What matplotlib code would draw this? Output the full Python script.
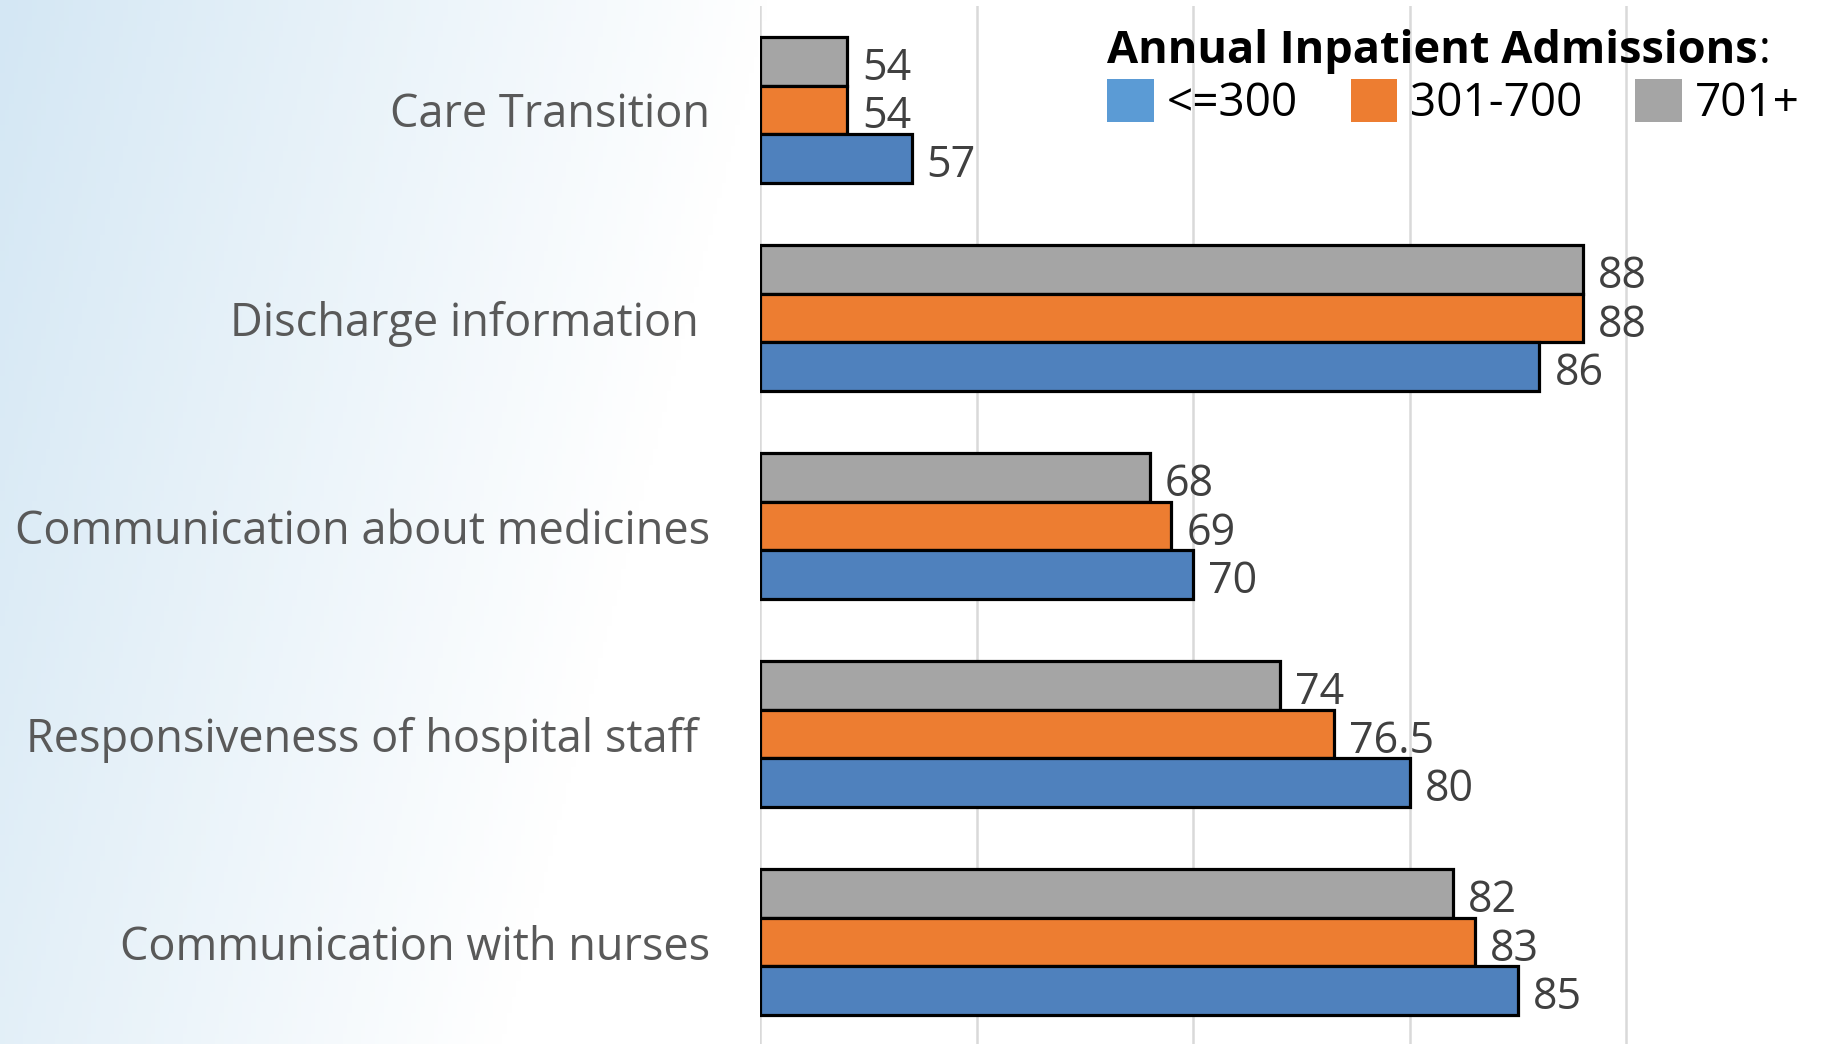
import numpy as np
import matplotlib
matplotlib.use("Agg")
import matplotlib.pyplot as plt
from matplotlib.patches import Patch

plt.rcParams['font.family'] = ['Open Sans', 'DejaVu Sans']

categories = ["Care Transition", "Discharge information ", "Communication about medicines",
              "Responsiveness of hospital staff ", "Communication with nurses"]
low = [57, 86, 70, 80, 85]        # <=300
mid = [54, 88, 69, 76.5, 83]      # 301-700
high = [54, 88, 68, 74, 82]       # 701+
series_names = ["<=300", "301-700", "701+"]

bar_colors = ["#4F81BD", "#ED7D31", "#A5A5A5"]
legend_colors = ["#5B9BD5", "#ED7D31", "#A5A5A5"]

fig = plt.figure(figsize=(18.27, 10.44), dpi=100)

# background gradient (light blue fading to white)
bg = fig.add_axes([0, 0, 1, 1], zorder=-5)
h, w = 200, 400
yy, xx = np.mgrid[0:h, 0:w]
t = np.clip(1 - (xx / w) / 0.42 - (yy / h) * 0.35, 0, 1)
blue = np.array([212, 231, 244]) / 255.0
img = 1 - t[..., None] * (1 - blue)
bg.imshow(img, aspect='auto', extent=[0, 1, 0, 1])
bg.axis('off')

ax = fig.add_axes([0.416, 0, 0.584, 0.9943])
ax.patch.set_alpha(0)

y = np.arange(len(categories))
bh = 0.234
for vals, off, col in [(high, -bh, bar_colors[2]), (mid, 0, bar_colors[1]), (low, bh, bar_colors[0])]:
    ax.barh(y + off, np.array(vals) - 50, left=50, height=bh, color=col,
            edgecolor='black', linewidth=2.3, zorder=3)
    for yi, v in zip(y + off, vals):
        ax.text(v + 0.7, yi + 0.035, "%g" % v, va='center', ha='left', fontsize=31,
                color='#404040', zorder=4)

ax.set_xlim(50, 99.28)
ax.set_ylim(4.49, -0.5)
ax.set_xticks([50, 60, 70, 80, 90])
ax.set_xticklabels([])
ax.grid(axis='x', color='#d9d9d9', linewidth=1.8, zorder=0)
ax.set_yticks(y)
ax.set_yticklabels(categories, fontsize=32.5, color='#595959')
ax.tick_params(axis='y', length=0, pad=36)
ax.tick_params(axis='x', length=0)
for s in ax.spines.values():
    s.set_visible(False)

# legend: bold title with a plain colon, then one row of entries
title = fig.text(0.606, 0.951, "Annual Inpatient Admissions", fontsize=32.5,
                 fontweight='bold', color='black', va='center', ha='left')
ax.annotate(":", xy=(1, 0.5), xycoords=title, xytext=(1, 0), textcoords='offset points',
            fontsize=32.5, color='black', va='center', ha='left', annotation_clip=False)

handles = [Patch(facecolor=c, edgecolor='none') for c in legend_colors]
leg = fig.legend(handles, series_names, ncol=3, frameon=False, loc='center left',
                 bbox_to_anchor=(0.606, 0.901), fontsize=33, handlelength=1.02,
                 handleheight=1.07, handletextpad=0.28, columnspacing=1.15,
                 borderpad=0, borderaxespad=0)
leg.set_zorder(10)

fig.savefig("out.png", dpi=100)
